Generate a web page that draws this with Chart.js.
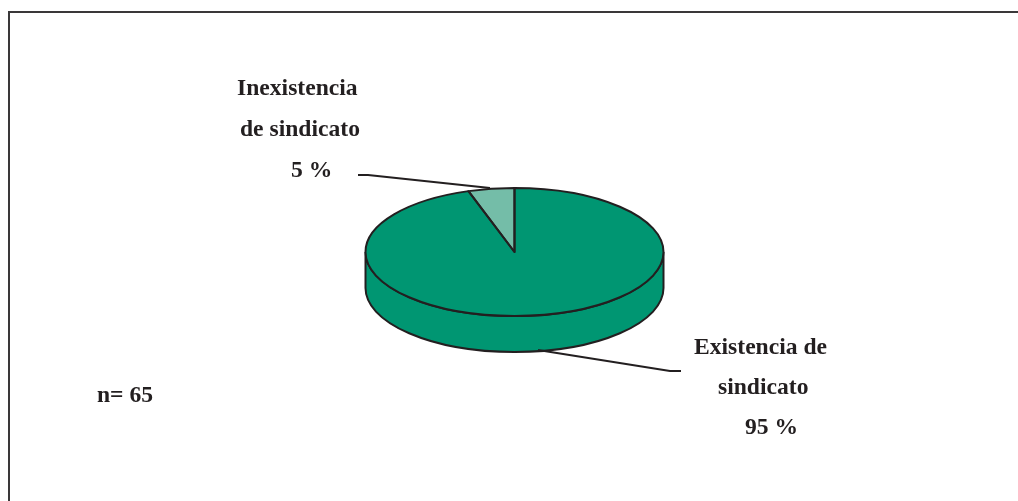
<!DOCTYPE html>
<html>
<head>
<meta charset="utf-8">
<script src="https://cdn.jsdelivr.net/npm/chart.js@4"></script>
<style>
  html, body { margin: 0; padding: 0; background: #fff; overflow: hidden; }
  #wrap { position: relative; width: 1018px; height: 501px; }
  #frame { position: absolute; left: 8px; top: 11px; right: -4px; bottom: -4px; border: 2px solid #3a3839; }
  canvas { position: absolute; left: 0; top: 0; }
</style>
</head>
<body>
<div id="wrap">
  <div id="frame"></div>
  <canvas id="pie" width="1018" height="501"></canvas>
</div>
<script>
const categories = ["Existencia de sindicato", "Inexistencia de sindicato"];
const values = [95, 5];
const sliceColors = ["#009672", "#74bda8"];

const sampleText = "n= 65";

// text lines: [text, left x, baseline y]
const textLines = [
  ["Inexistencia", 237, 95],
  ["de sindicato", 240, 136],
  ["5 %", 291, 177],
  ["Existencia de", 694, 354],
  ["sindicato", 718, 394],
  ["95 %", 745, 434],
  [sampleText, 97, 402]
];

// leader lines
const leaders = [
  [[358, 175], [368, 175], [490, 188]],
  [[538, 350], [670, 371], [681, 371]]
];

const squash = 64 / 149;   // pie is tilted, so circle becomes ellipse
const depth = 36;
const ink = "#231f20";

const tiltPlugin = {
  id: "tilt",
  beforeDatasetsDraw(chart) {
    const ctx = chart.ctx;
    const arc = chart.getDatasetMeta(0).data[0];
    const rx = arc.outerRadius, ry = rx * squash;

    // side wall under the top face
    ctx.save();
    ctx.beginPath();
    ctx.ellipse(arc.x, arc.y + depth, rx, ry, 0, 0, Math.PI);
    ctx.ellipse(arc.x, arc.y, rx, ry, 0, Math.PI, 0, true);
    ctx.closePath();
    ctx.fillStyle = sliceColors[0];
    ctx.fill();
    ctx.strokeStyle = ink;
    ctx.lineWidth = 2;
    ctx.stroke();
    ctx.restore();

    // squash the slices themselves
    ctx.save();
    ctx.translate(arc.x, arc.y);
    ctx.scale(1, squash);
    ctx.translate(-arc.x, -arc.y);
  },
  afterDatasetsDraw(chart) {
    const ctx = chart.ctx;
    ctx.restore();

    // outlines done after the restore so the line width stays even
    ctx.save();
    ctx.strokeStyle = ink;
    ctx.lineWidth = 2;
    ctx.lineJoin = "round";
    chart.getDatasetMeta(0).data.forEach(arc => {
      const rx = arc.outerRadius, ry = rx * squash;
      ctx.beginPath();
      ctx.moveTo(arc.x, arc.y);
      ctx.ellipse(arc.x, arc.y, rx, ry, 0, arc.startAngle, arc.endAngle);
      ctx.closePath();
      ctx.stroke();
    });

    leaders.forEach(pts => {
      ctx.beginPath();
      pts.forEach((p, i) => i ? ctx.lineTo(p[0], p[1]) : ctx.moveTo(p[0], p[1]));
      ctx.stroke();
    });

    ctx.fillStyle = ink;
    ctx.font = "bold 23.6px 'Liberation Serif'";
    ctx.textAlign = "left";
    ctx.textBaseline = "alphabetic";
    textLines.forEach(t => ctx.fillText(t[0], t[1], t[2]));
    ctx.restore();
  }
};

new Chart(document.getElementById("pie"), {
  type: "pie",
  data: {
    labels: categories,
    datasets: [{
      data: values,
      backgroundColor: sliceColors,
      borderWidth: 0,
      radius: 149
    }]
  },
  options: {
    responsive: false,
    animation: false,
    events: [],
    layout: { padding: { left: 11, top: 3 } },
    plugins: {
      legend: { display: false },
      tooltip: { enabled: false }
    }
  },
  plugins: [tiltPlugin]
});
</script>
</body>
</html>
